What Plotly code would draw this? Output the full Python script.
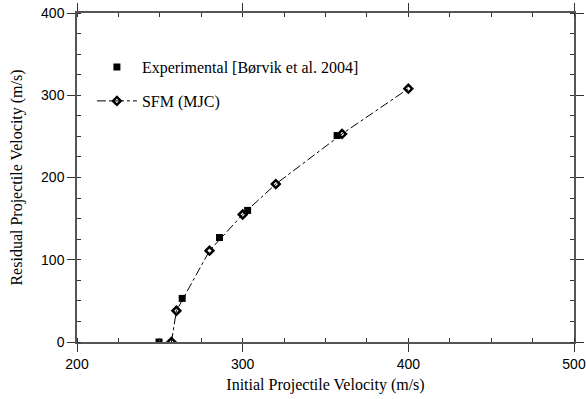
import plotly.graph_objects as go

exp_x = [249.5, 263.5, 286, 303, 357]
exp_y = [0, 53, 127, 160, 251]

sfm_x = [257, 260, 280, 300, 320, 360, 400]
sfm_y = [0, 38, 111, 155, 192, 253, 308]

x_ticks = [200, 300, 400, 500]
y_ticks = [0, 100, 200, 300, 400]

serif = "Liberation Serif, Times New Roman, serif"
sans = "Liberation Sans, Arial, sans-serif"

fig = go.Figure()
fig.add_trace(go.Scatter(
    x=exp_x, y=exp_y, mode="markers", name="Experimental [Børvik et al. 2004]",
    legendgroup="exp",
    marker=dict(symbol="square", size=7, color="black"),
))
fig.add_trace(go.Scatter(
    x=sfm_x, y=sfm_y, mode="lines+markers", name="SFM (MJC)",
    legendgroup="sfm",
    line=dict(color="black", width=1, dash="dashdot"),
    marker=dict(symbol="diamond-open", size=6, color="black", line=dict(width=2.5, color="black")),
))

axis_common = dict(
    showgrid=False, zeroline=False, showline=True, linecolor="#555", linewidth=1.5,
    mirror="allticks", ticks="outside", ticklen=8, tickwidth=1, tickcolor="#333",
    tickfont=dict(family=sans, size=14, color="black"), automargin=False,
)

fig.update_xaxes(
    range=[200, 500], tickvals=x_ticks,
    title=dict(text="Initial Projectile Velocity (m/s)", font=dict(family=serif, size=16, color="black"), standoff=8),
    minor=dict(dtick=25, ticks="inside", ticklen=4, tickcolor="#333"),
    **axis_common,
)
fig.update_yaxes(
    range=[0, 400], tickvals=y_ticks,
    title=dict(text="Residual Projectile Velocity (m/s)", font=dict(family=serif, size=16, color="black"), standoff=14),
    minor=dict(dtick=25, ticks="inside", ticklen=4, tickcolor="#333"),
    **axis_common,
)

fig.update_layout(
    width=586, height=399,
    margin=dict(l=77, r=12, t=13, b=57),
    plot_bgcolor="white", paper_bgcolor="white",
    legend=dict(x=0.03, y=0.887, xanchor="left", yanchor="top",
                font=dict(family=serif, size=16, color="black"),
                bgcolor="rgba(0,0,0,0)", tracegroupgap=10, itemwidth=40),
    showlegend=True,
)

fig.write_html("out.html")
